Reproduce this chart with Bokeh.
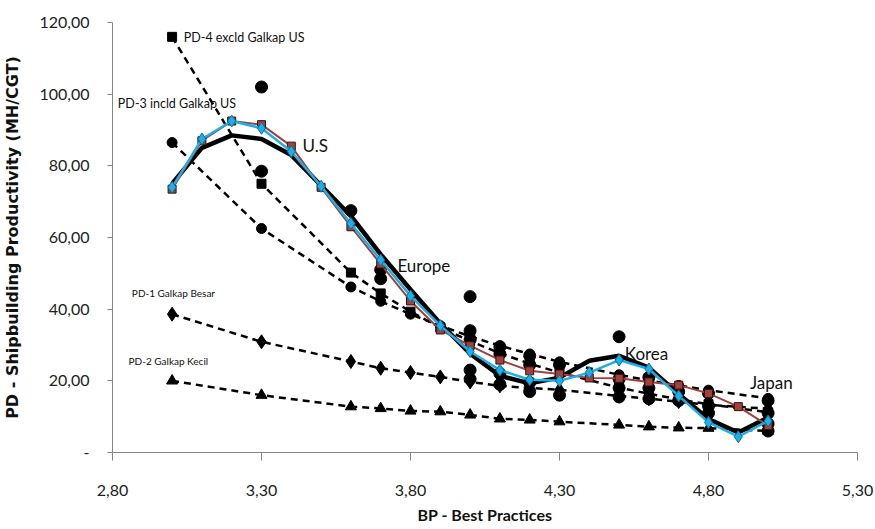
from bokeh.plotting import figure
from bokeh.models import FixedTicker, CustomJSTickFormatter
from bokeh.core.properties import value
from bokeh.embed import file_html
from bokeh.resources import INLINE

# ---- data ----
x_pts = [3.0, 3.1, 3.2, 3.3, 3.4, 3.5, 3.6, 3.7, 3.8, 3.9, 4.0, 4.1, 4.2, 4.3, 4.4, 4.5, 4.6, 4.7, 4.8, 4.9, 5.0]
black_line = [75.0, 85.0, 88.5, 87.5, 83.0, 74.5, 66.0, 55.3, 45.5, 36.0, 27.6, 21.4, 19.3, 20.9, 25.6, 27.0, 23.7, 16.3, 9.3, 5.6, 9.8]
red_line = [73.5, 87.0, 92.5, 91.5, 85.5, 74.0, 63.0, 52.6, 42.3, 34.2, 29.8, 25.8, 22.8, 21.9, 20.8, 20.7, 19.7, 18.8, 16.5, 12.8, 7.5]
cyan_line = [74.0, 87.5, 92.5, 90.5, 84.0, 74.3, 63.9, 53.7, 43.7, 35.4, 28.2, 23.0, 20.3, 20.0, 22.3, 25.8, 23.3, 15.8, 8.4, 4.4, 8.8]

x_pd = [3.0, 3.3, 3.6, 3.7, 3.8, 3.9, 4.0, 4.1, 4.2, 4.3, 4.5, 4.6, 4.7, 4.8, 5.0]
pd4 = [116.0, 75.0, 50.2, 44.4, 39.3, 34.9, 31.1, 27.7, 24.8, 22.3, 18.1, 16.4, 14.8, 13.5, 11.2]
pd3 = [86.5, 62.5, 46.2, 42.2, 38.6, 35.4, 32.4, 29.8, 27.5, 25.3, 21.7, 20.1, 18.7, 17.4, 15.1]
pd1 = [38.6, 30.9, 25.4, 23.5, 22.3, 21.1, 19.7, 18.6, 18.0, 17.5, 15.8, 15.0, 14.2, 13.3, 12.2]
pd2 = [20.0, 16.0, 12.8, 12.3, 11.6, 11.4, 10.5, 9.4, 9.1, 8.6, 7.7, 7.2, 6.9, 6.8, 6.0]

scatter_x = [3.3, 3.3, 3.6, 3.7, 3.7, 4.0, 4.0, 4.0, 4.0, 4.0, 4.1, 4.1, 4.1, 4.1, 4.2, 4.2, 4.2, 4.2,
             4.3, 4.3, 4.5, 4.5, 4.5, 4.5, 4.6, 4.6, 4.6, 4.7, 4.7, 4.8, 4.8, 4.8, 5.0, 5.0, 5.0, 5.0]
scatter_y = [102.0, 78.5, 67.5, 51.0, 48.5, 43.5, 34.0, 31.5, 23.0, 20.5, 29.5, 27.5, 22.0, 19.0, 27.0, 24.5, 19.5, 17.0,
             24.5, 16.0, 32.3, 20.5, 18.0, 15.5, 21.0, 18.0, 15.0, 17.0, 14.5, 16.5, 13.0, 11.0, 14.5, 11.0, 8.0, 6.0]

x_ticks = [2.8, 3.3, 3.8, 4.3, 4.8, 5.3]
x_tick_labels = ["2,80", "3,30", "3,80", "4,30", "4,80", "5,30"]
y_ticks = [0, 20, 40, 60, 80, 100, 120]
y_tick_labels = ["-", "20,00", "40,00", "60,00", "80,00", "100,00", "120,00"]

series_labels = ["PD-4 excld Galkap US", "PD-3 incld Galkap US", "PD-1 Galkap Besar", "PD-2 Galkap Kecil"]
region_labels = ["U.S", "Europe", "Korea", "Japan"]

# ---- figure ----
p = figure(width=875, height=529, x_range=(2.8, 5.3), y_range=(0, 120),
           output_backend="svg", toolbar_location=None,
           min_border_left=112, min_border_right=18, min_border_top=22, min_border_bottom=77)
p.outline_line_color = None
p.xgrid.visible = False
p.ygrid.visible = False
p.background_fill_color = "white"

fmt_code = """
let best = 0; let d = 1e9;
for (let i = 0; i < tv.length; i++) { const dd = Math.abs(tv[i] - tick); if (dd < d) { d = dd; best = i; } }
return tl[best];
"""
p.xaxis.ticker = FixedTicker(ticks=x_ticks)
p.xaxis.formatter = CustomJSTickFormatter(args=dict(tv=x_ticks, tl=x_tick_labels), code=fmt_code)
p.yaxis.ticker = FixedTicker(ticks=y_ticks)
p.yaxis.formatter = CustomJSTickFormatter(args=dict(tv=y_ticks, tl=y_tick_labels), code=fmt_code)

for ax in (p.xaxis[0], p.yaxis[0]):
    ax.axis_line_color = "#868686"
    ax.major_tick_line_color = "#868686"
    ax.minor_tick_line_color = None
    ax.major_tick_in = 0
    ax.major_label_text_font = "Lato"
    ax.major_label_text_font_size = "16px"
    ax.major_label_text_color = "#222222"
    ax.axis_label_text_font_style = "bold"
    ax.axis_label_text_color = "#111111"

p.xaxis.major_tick_out = 8
p.xaxis.major_label_standoff = 24
p.xaxis.axis_label = "BP - Best Practices"
p.xaxis.axis_label_text_font = "Lato"
p.xaxis.axis_label_text_font_size = "16px"
p.xaxis.axis_label_standoff = 6

p.yaxis.major_tick_out = 5
p.yaxis.major_label_standoff = 18
p.yaxis.axis_label = "PD - Shipbuilding Productivity (MH/CGT)"
p.yaxis.axis_label_text_font = "DejaVu Sans"
p.yaxis.axis_label_text_font_size = "16px"
p.yaxis.axis_label_standoff = 14

# ---- dashed trend lines ----
dash = "7 5"
p.line(x_pd, pd4, line_color="black", line_width=2.5, line_dash=dash)
p.line(x_pd, pd3, line_color="black", line_width=2.5, line_dash=dash)
p.line(x_pd, pd1, line_color="black", line_width=2.5, line_dash=dash)
p.line(x_pd, pd2, line_color="black", line_width=2.5, line_dash=dash)
p.scatter(x_pd, pd4, marker="square", size=9, color="black")
p.scatter(x_pd, pd3, marker="circle", size=10, color="black")
p.scatter(x_pd, pd1, marker="diamond", size=14, color="black")
p.scatter(x_pd, pd2, marker="triangle", size=11, color="black")

# raw data points
p.scatter(scatter_x, scatter_y, marker="circle", size=12, color="black")

# ---- solid lines ----
p.line(x_pts, black_line, line_color="black", line_width=4.5)
p.line(x_pts, red_line, line_color="#A0413C", line_width=2)
p.scatter(x_pts, red_line, marker="square", size=8, fill_color="#A0413C", line_color="#3A1010", line_width=1)
p.line(x_pts, cyan_line, line_color="#1CB0E6", line_width=2.5)
p.scatter(x_pts, cyan_line, marker="diamond", size=12, fill_color="#1CB0E6", line_color="#0B6E9A", line_width=1)

# ---- labels ----
p.text(x=[3.039, 2.818], y=[115.7, 97.3], text=series_labels[:2],
       text_font=value("Lato"), text_font_size="12.5px", text_color="#111111",
       text_align="left", text_baseline="middle")
p.text(x=[2.865, 2.854], y=[44.4, 25.6], text=series_labels[2:],
       text_font=value("Lato"), text_font_size="10px", text_color="#111111",
       text_align="left", text_baseline="middle")
p.text(x=[3.438, 3.756, 4.519, 4.939], y=[85.6, 52.1, 27.5, 19.5], text=region_labels,
       text_font=value("Lato"), text_font_size="17px", text_color="#111111",
       text_align="left", text_baseline="middle")

open("out.html", "w").write(file_html(p, INLINE))
